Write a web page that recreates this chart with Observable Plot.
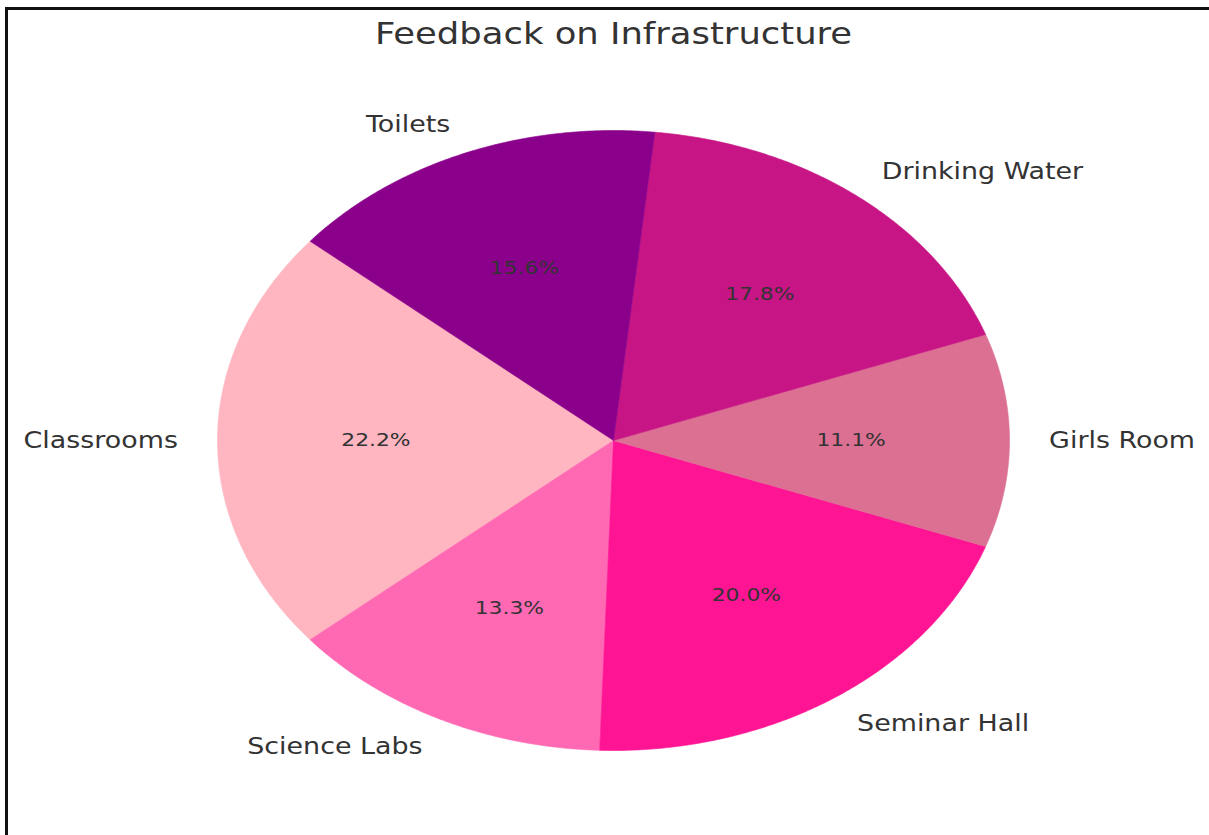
<!DOCTYPE html>
<html><head><meta charset="utf-8">
<script src="https://cdn.jsdelivr.net/npm/d3@7"></script>
<script src="https://cdn.jsdelivr.net/npm/@observablehq/plot@0.6"></script>
<style>
html,body{margin:0;padding:0;background:#fff;width:1209px;height:835px;overflow:hidden}
#frame{position:absolute;left:5px;top:7px;width:1204px;height:828px;border-top:3px solid #111;border-left:3px solid #111;box-sizing:border-box}
#chart{position:absolute;left:0;top:0}
</style></head><body>
<div id="frame"></div><div id="chart"></div>
<script>
const title = "Feedback on Infrastructure";
const categories = ["Classrooms", "Science Labs", "Seminar Hall", "Girls Room", "Drinking Water", "Toilets"];
const counts = [10, 6, 9, 5, 8, 7];
const colors = ["#FFB6C1", "#FF69B4", "#FF1493", "#DB7093", "#C71585", "#8B008B"];
const startAngle = 140;

const total = d3.sum(counts);
const rad = d => d * Math.PI / 180;
let acc = 0;
const slices = categories.map((c, i) => {
  const a0 = startAngle + acc / total * 360;
  acc += counts[i];
  const a1 = startAngle + acc / total * 360;
  const mid = rad((a0 + a1) / 2);
  return {
    category: c, count: counts[i], a0, a1,
    pct: d3.format(".1f")(counts[i] / total * 100) + "%",
    lx: 1.1 * Math.cos(mid), ly: 1.1 * Math.sin(mid),
    px: 0.6 * Math.cos(mid), py: 0.6 * Math.sin(mid)
  };
});
const wedgePts = slices.flatMap(s => {
  const n = Math.max(2, Math.ceil((s.a1 - s.a0) / 0.5));
  const arc = d3.range(n + 1).map(k => {
    const t = rad(s.a0 + (s.a1 - s.a0) * k / n);
    return {category: s.category, x: Math.cos(t), y: Math.sin(t)};
  });
  return [{category: s.category, x: 0, y: 0}, ...arc, {category: s.category, x: 0, y: 0}];
});

const SX = 1.18;
const LABEL_FS = 22.8, PCT_FS = 18.5, TITLE_FS = 30;

const plot = Plot.plot({
  width: 1209, height: 835,
  marginLeft: 217, marginRight: 200, marginTop: 130, marginBottom: 85,
  x: {domain: [-1, 1], axis: null},
  y: {domain: [-1, 1], axis: null},
  color: {type: "ordinal", domain: categories, range: colors},
  style: {background: "transparent", overflow: "visible", fontFamily: "DejaVu Sans"},
  marks: [
    Plot.line(wedgePts, {x: "x", y: "y", z: "category", fill: "category", stroke: "category", strokeWidth: 0.6, strokeLinejoin: "round", curve: "linear"}),
    Plot.text(slices.filter(d => d.lx >= 0), {x: "lx", y: "ly", text: "category", textAnchor: "start", lineAnchor: "middle", fontSize: LABEL_FS, fill: "#333"}),
    Plot.text(slices.filter(d => d.lx < 0), {x: "lx", y: "ly", text: "category", textAnchor: "end", lineAnchor: "middle", fontSize: LABEL_FS, fill: "#333"}),
    Plot.text(slices, {x: "px", y: "py", text: "pct", textAnchor: "middle", lineAnchor: "middle", fontSize: PCT_FS, fill: "#333"}),
    Plot.text([title], {frameAnchor: "top", dy: -96.3, lineAnchor: "middle", fontSize: TITLE_FS, fill: "#333"})
  ]
});

// The reference image is stretched horizontally; stretch all text the same way.
plot.querySelectorAll("g[aria-label='text'] text").forEach(el => {
  const t = el.getAttribute("transform");
  if (t) el.setAttribute("transform", t + ` scale(${SX},1)`);
  else {
    const x = +el.getAttribute("x") || 0, y = +el.getAttribute("y") || 0;
    el.removeAttribute("x"); el.removeAttribute("y");
    el.setAttribute("transform", `translate(${x},${y}) scale(${SX},1)`);
  }
});

document.getElementById("chart").appendChild(plot);
</script>
</body></html>
